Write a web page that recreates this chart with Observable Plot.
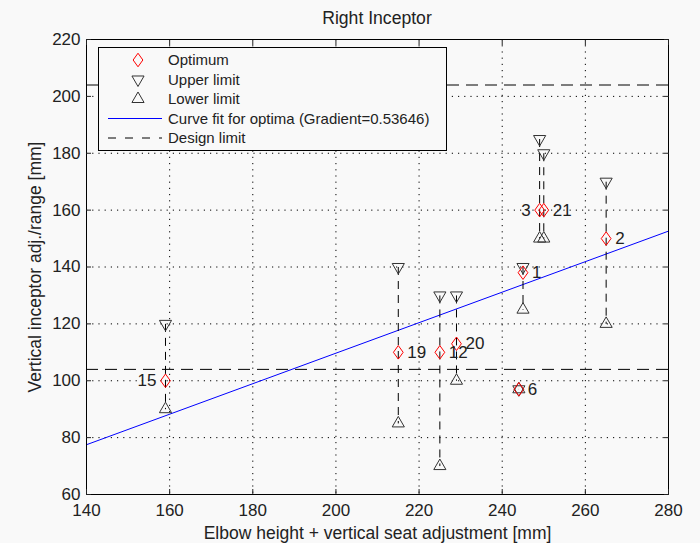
<!DOCTYPE html>
<html><head><meta charset="utf-8">
<script src="https://cdn.jsdelivr.net/npm/d3@7"></script>
<script src="https://cdn.jsdelivr.net/npm/@observablehq/plot@0.6"></script>
<style>
body{margin:0;background:#f9f9f9;}
#wrap{position:relative;width:700px;height:543px;background:#f9f9f9;font-family:"Liberation Sans",Arial,sans-serif;color:#222;}
#title{position:absolute;top:8px;left:86px;width:582px;text-align:center;font-size:17.6px;}
#legend{position:absolute;left:98px;top:47px;width:349px;height:104px;}
</style></head><body>
<div id="wrap"><div id="title">Right Inceptor</div><svg id="legend" width="349" height="104"></svg></div>
<script>
const subjects = ["15","19","12","20","6","1","3","21","2"];
const elbowHeight = [159,215,225,229,244,245,249,250,265];
const optimum = [100,110,110,113,97,138,160,160,150];
const upperLimit = [120,140,130,130,97,140,185,180,170];
const lowerLimit = [90,85,70,100,97,125,150,150,120];
const designLimits = [104,204];
const fitGradient = 0.53646;
const xTicks = [140,160,180,200,220,240,260,280];
const yTicks = [60,80,100,120,140,160,180,200,220];
const leftLabeled = ["15","3"];
const legendLabels = ["Optimum","Upper limit","Lower limit","Curve fit for optima (Gradient=0.53646)","Design limit"];

const rows = subjects.map((s,i)=>({id:s,x:elbowHeight[i],opt:optimum[i],up:upperLimit[i],lo:lowerLimit[i]}));
const intercept = d3.mean(optimum) - fitGradient*d3.mean(elbowHeight);
const xDom = [xTicks[0], xTicks[xTicks.length-1]];
const fit = xDom.map(x=>({x, y: intercept + fitGradient*x}));

const triUp = {draw(ctx,size){d3.symbolTriangle2.draw(ctx,size);}};
const triDown = {draw(ctx,size){const f={moveTo:(x,y)=>ctx.moveTo(x,-y),lineTo:(x,y)=>ctx.lineTo(x,-y),closePath:()=>ctx.closePath()};d3.symbolTriangle2.draw(f,size);}};
const diamondTall = {draw(ctx,size){const h=Math.sqrt(size)*0.78,w=h*0.72;ctx.moveTo(0,-h);ctx.lineTo(w,0);ctx.lineTo(0,h);ctx.lineTo(-w,0);ctx.closePath();}};
const triR = 5.8, diaR = 4.9;

const plot = Plot.plot({
  width:700, height:543,
  marginLeft:86, marginRight:32, marginTop:39, marginBottom:49,
  style:{background:"transparent", fontFamily:"'Liberation Sans', Arial, sans-serif", fontSize:"17px", color:"#222"},
  x:{domain:xDom},
  y:{domain:[yTicks[0], yTicks[yTicks.length-1]]},
  marks:[
    Plot.gridX({ticks:xTicks, stroke:"#000", strokeOpacity:1, strokeDasharray:"1.2,5"}),
    Plot.gridY({ticks:yTicks, stroke:"#000", strokeOpacity:1, strokeDasharray:"1.2,5"}),
    Plot.ruleY(designLimits, {stroke:"#000", strokeDasharray:"12,7"}),
    Plot.line(fit, {x:"x", y:"y", stroke:"#0000ff", strokeWidth:1}),
    Plot.link(rows, {x1:"x", x2:"x", y1:"up", y2:"lo", stroke:"#000", strokeDasharray:"8,6"}),
    Plot.dot(rows, {x:"x", y:"up", symbol:triDown, r:triR, stroke:"#333", strokeWidth:1}),
    Plot.dot(rows, {x:"x", y:"lo", symbol:triUp, r:triR, stroke:"#333", strokeWidth:1}),
    Plot.dot(rows, {x:"x", y:"opt", symbol:diamondTall, r:diaR, stroke:"#ff0000", strokeWidth:1}),
    Plot.text(rows.filter(d=>!leftLabeled.includes(d.id)), {x:"x", y:"opt", text:"id", dx:9, textAnchor:"start", fontSize:17, fill:"#222"}),
    Plot.text(rows.filter(d=>leftLabeled.includes(d.id)), {x:"x", y:"opt", text:"id", dx:-9, textAnchor:"end", fontSize:17, fill:"#222"}),
    Plot.frame({stroke:"#000"}),
    Plot.axisX({ticks:xTicks, anchor:"bottom", tickSize:0, tickPadding:9, fontSize:17, label:"Elbow height + vertical seat adjustment [mm]", labelAnchor:"center", labelArrow:"none", labelOffset:44}),
    Plot.axisY({ticks:yTicks, anchor:"left", tickSize:0, tickPadding:6, fontSize:17, label:"Vertical inceptor adj./range [mm]", labelAnchor:"center", labelArrow:"none", labelOffset:58}),
    Plot.axisX({ticks:xTicks, anchor:"bottom", tickSize:5, dy:-5, text:null, label:null}),
    Plot.axisX({ticks:xTicks, anchor:"top", tickSize:5, dy:5, text:null, label:null}),
    Plot.axisY({ticks:yTicks, anchor:"left", tickSize:5, dx:5, text:null, label:null}),
    Plot.axisY({ticks:yTicks, anchor:"right", tickSize:5, dx:-5, text:null, label:null})
  ]
});
plot.style.position="absolute"; plot.style.left="0"; plot.style.top="0";
plot.querySelectorAll('g[aria-label="x-axis label"] text, g[aria-label="y-axis label"] text').forEach(t=>t.setAttribute("font-size","17.5"));
const wrap = document.getElementById("wrap");
wrap.insertBefore(plot, wrap.firstChild);

// legend
const lg = d3.select("#legend");
lg.append("rect").attr("x",0.5).attr("y",0.5).attr("width",348).attr("height",103).attr("fill","#f9f9f9").attr("stroke","#000");
const rowY = i => 13 + i*19.5;
const sym = (type, r) => d3.symbol(type, Math.PI*r*r)();
lg.append("path").attr("d", sym(diamondTall, diaR)).attr("transform",`translate(40,${rowY(0)})`).attr("fill","none").attr("stroke","#ff0000");
lg.append("path").attr("d", sym(triDown, triR)).attr("transform",`translate(40,${rowY(1)})`).attr("fill","none").attr("stroke","#333");
lg.append("path").attr("d", sym(triUp, triR)).attr("transform",`translate(40,${rowY(2)})`).attr("fill","none").attr("stroke","#333");
lg.append("line").attr("x1",10).attr("x2",64).attr("y1",rowY(3)).attr("y2",rowY(3)).attr("stroke","#0000ff");
lg.append("line").attr("x1",10).attr("x2",64).attr("y1",rowY(4)).attr("y2",rowY(4)).attr("stroke","#000").attr("stroke-dasharray","8,9");
legendLabels.forEach((t,i)=>{
  lg.append("text").attr("x",70).attr("y",rowY(i)).attr("dy","0.36em").attr("font-size",15).attr("fill","#222").attr("font-family","'Liberation Sans', Arial, sans-serif").text(t);
});
</script>
</body></html>
